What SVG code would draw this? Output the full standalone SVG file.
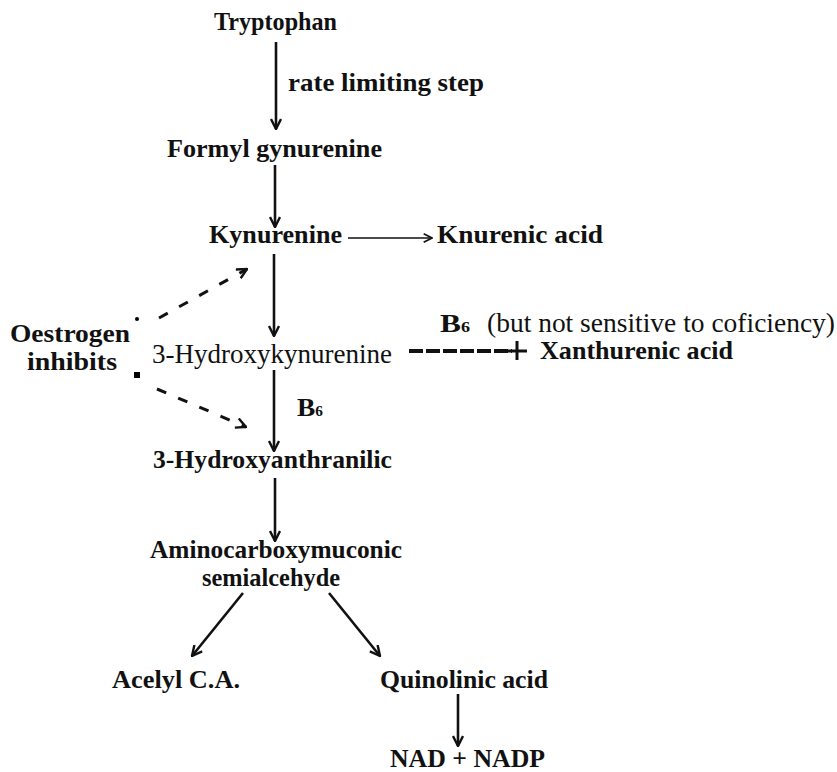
<svg xmlns="http://www.w3.org/2000/svg" width="837" height="772" viewBox="0 0 837 772">
<style>
text{fill:#111;font-family:"Times New Roman","Liberation Serif",serif}
.b{font-weight:bold}
.r{font-weight:normal}
.ln{stroke:#111;stroke-width:2.6;fill:none}
.dash{stroke:#111;stroke-width:3;fill:none;stroke-dasharray:10 13}
</style>
<defs>
<marker id="ah" viewBox="0 0 12 12" refX="11" refY="6" markerWidth="12" markerHeight="12" markerUnits="userSpaceOnUse" orient="auto">
<path d="M1,1 L11,6 L1,11" fill="none" stroke="#111" stroke-width="2.4"/>
</marker>
<marker id="ahs" viewBox="0 0 12 12" refX="11" refY="6" markerWidth="10" markerHeight="10" markerUnits="userSpaceOnUse" orient="auto">
<path d="M1,1 L11,6 L1,11" fill="none" stroke="#111" stroke-width="2"/>
</marker>
</defs>
<rect width="837" height="772" fill="#fff"/>
<g id="tryptophan"><text class="b" x="214" y="30" font-size="25" textLength="123" lengthAdjust="spacingAndGlyphs">Tryptophan</text></g>
<g id="rate-label"><text class="b" x="288" y="91" font-size="25" textLength="196" lengthAdjust="spacingAndGlyphs">rate limiting step</text></g>
<g id="formyl"><text class="b" x="167" y="157" font-size="26" textLength="215" lengthAdjust="spacingAndGlyphs">Formyl gynurenine</text></g>
<g id="kynurenine"><text class="b" x="209" y="243" font-size="26" textLength="133" lengthAdjust="spacingAndGlyphs">Kynurenine</text></g>
<g id="knurenic"><text class="b" x="437" y="243" font-size="26" textLength="166" lengthAdjust="spacingAndGlyphs">Knurenic acid</text></g>
<g id="oestrogen"><text class="b" x="10" y="342" font-size="26" textLength="120" lengthAdjust="spacingAndGlyphs">Oestrogen</text><text class="b" x="27" y="370" font-size="26" textLength="90" lengthAdjust="spacingAndGlyphs">inhibits</text>
<circle cx="137" cy="319" r="2"/><rect x="134" y="372" width="6" height="6"/></g>
<g id="hydroxykynurenine"><text class="r" x="152" y="363" font-size="27" textLength="240" lengthAdjust="spacingAndGlyphs">3-Hydroxykynurenine</text></g>
<g id="b6-note"><text class="b" x="440" y="332" font-size="26" textLength="30" lengthAdjust="spacingAndGlyphs">B<tspan font-size="15">6</tspan></text><text class="r" x="487" y="332" font-size="27" textLength="348" lengthAdjust="spacingAndGlyphs">(but not sensitive to coficiency)</text></g>
<g id="xanthurenic"><text class="b" x="540" y="359" font-size="26" textLength="193" lengthAdjust="spacingAndGlyphs">Xanthurenic acid</text></g>
<g id="b6-label"><text class="b" x="297" y="416" font-size="25" textLength="26" lengthAdjust="spacingAndGlyphs">B<tspan font-size="14">6</tspan></text></g>
<g id="hydroxyanthranilic"><text class="b" x="153" y="468" font-size="26" textLength="239" lengthAdjust="spacingAndGlyphs">3-Hydroxyanthranilic</text></g>
<g id="aminocarboxymuconic"><text class="b" x="150" y="558" font-size="26" textLength="252" lengthAdjust="spacingAndGlyphs">Aminocarboxymuconic</text><text class="b" x="202" y="586" font-size="26" textLength="138" lengthAdjust="spacingAndGlyphs">semialcehyde</text></g>
<g id="acetyl"><text class="b" x="112" y="688" font-size="26" textLength="128" lengthAdjust="spacingAndGlyphs">Acelyl C.A.</text></g>
<g id="quinolinic"><text class="b" x="380" y="688" font-size="26" textLength="168" lengthAdjust="spacingAndGlyphs">Quinolinic acid</text></g>
<g id="nad"><text class="b" x="390" y="767" font-size="25" textLength="155" lengthAdjust="spacingAndGlyphs">NAD + NADP</text></g>
<g id="connectors">
<line class="ln" x1="276" y1="42" x2="276" y2="129" marker-end="url(#ah)"/>
<line class="ln" x1="275" y1="165" x2="275" y2="227" marker-end="url(#ah)"/>
<line x1="348" y1="238" x2="432" y2="238" stroke="#111" stroke-width="1.6" marker-end="url(#ahs)"/>
<line class="ln" x1="274" y1="254" x2="274" y2="336" marker-end="url(#ah)"/>
<line class="ln" x1="274" y1="370" x2="274" y2="451" marker-end="url(#ah)"/>
<line class="ln" x1="275" y1="478" x2="275" y2="541" marker-end="url(#ah)"/>
<line class="ln" x1="243" y1="593" x2="192" y2="656" marker-end="url(#ah)"/>
<line class="ln" x1="329" y1="593" x2="380" y2="656" marker-end="url(#ah)"/>
<line class="ln" x1="458" y1="694" x2="458" y2="746" marker-end="url(#ah)"/>
<line class="dash" x1="159" y1="318" x2="247" y2="269" marker-end="url(#ah)"/>
<line class="dash" x1="157" y1="389" x2="246" y2="427" marker-end="url(#ah)"/>
<line x1="409" y1="351" x2="512" y2="351" stroke="#111" stroke-width="4" stroke-dasharray="14 3"/>
<line x1="508" y1="351" x2="527" y2="351" stroke="#111" stroke-width="3"/>
<line x1="517" y1="341" x2="517" y2="360" stroke="#111" stroke-width="3"/>
</g>
</svg>
